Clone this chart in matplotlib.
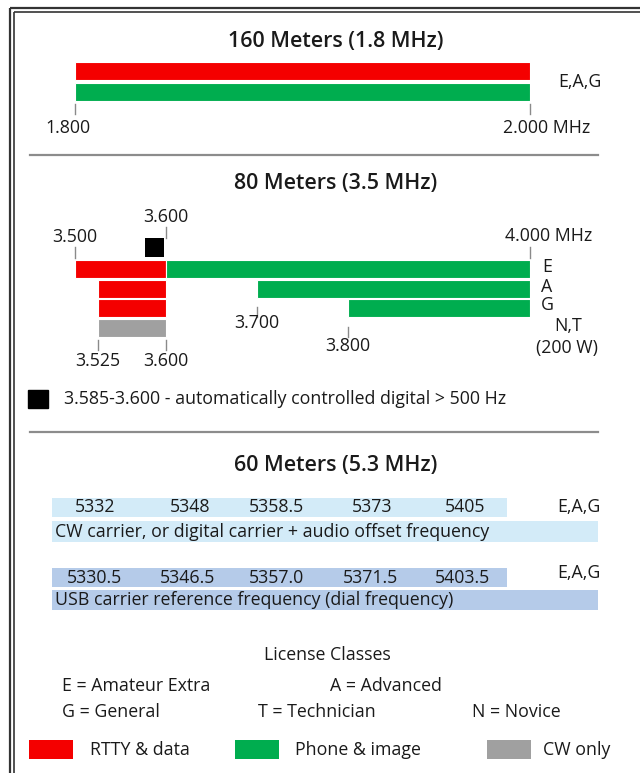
import matplotlib
matplotlib.use("Agg")
import matplotlib.pyplot as plt
from matplotlib.patches import Rectangle
from matplotlib import transforms

plt.rcParams['font.family'] = ['Open Sans', 'DejaVu Sans']

# ---------------- data ----------------
RED = '#f40000'
GREEN = '#00ad4f'
GRAY = '#a0a0a0'
LBLUE = '#d3ebf8'
DBLUE = '#b5cbe9'

# 160 m band (MHz)
b160_start, b160_end = 1.800, 2.000
b160_segments = [(1.800, 2.000, 'rtty'), (1.800, 2.000, 'phone')]
b160_classes = 'E,A,G'

# 80 m band (MHz): rows -> (start, end, mode)
b80_rows = {
    'E': [(3.500, 3.600, 'rtty'), (3.600, 4.000, 'phone')],
    'A': [(3.525, 3.600, 'rtty'), (3.700, 4.000, 'phone')],
    'G': [(3.525, 3.600, 'rtty'), (3.800, 4.000, 'phone')],
    'N,T': [(3.525, 3.600, 'cw')],
}
b80_auto = (3.577, 3.598)   # drawn square, 3.585-3.600 segment
b80_ticks = [3.500, 3.525, 3.600, 3.700, 3.800, 4.000]

# 60 m channels (kHz)
ch_cw = ['5332', '5348', '5358.5', '5373', '5405']
ch_usb = ['5330.5', '5346.5', '5357.0', '5371.5', '5403.5']

mode_color = {'rtty': RED, 'phone': GREEN, 'cw': GRAY}
mode_label = {'rtty': 'RTTY & data', 'phone': 'Phone & image', 'cw': 'CW only'}

license_classes = [('E = Amateur Extra', 0, 0), ('A = Advanced', 1, 0),
                   ('G = General', 0, 1), ('T = Technician', 1, 1), ('N = Novice', 2, 1)]

# ---------------- figure ----------------
W, H = 640, 773
fig = plt.figure(figsize=(W / 100, H / 100), dpi=100)
bg = fig.add_axes([0, 0, 1, 1])
bg.set_xlim(0, W)
bg.set_ylim(H, 0)
bg.axis('off')

TXT = '#1a1a1a'
TICK = '#8a8a8a'
FS = 12.8

# frame (double line)
for off, lw in ((0, 1.6), (3.5, 1.2)):
    bg.plot([10 + off, 10 + off], [H + 5, 8 + off], color='#333333', lw=lw, solid_capstyle='butt')
    bg.plot([10 + off, W + 5], [8 + off, 8 + off], color='#333333', lw=lw, solid_capstyle='butt')

# separators
for y in (155, 432):
    bg.plot([30, 598], [y, y], color='#8c8c8c', lw=1.6)

title_kw = dict(ha='center', va='center', fontsize=15.4, fontweight='semibold', color=TXT)
lab_kw = dict(va='center', fontsize=FS, color=TXT)

# ------------ 160 m -------------
ax1 = fig.add_axes([75 / W, 0, 455 / W, 1])
ax1.set_xlim(b160_start, b160_end)
ax1.set_ylim(H, 0)
ax1.axis('off')
bg.text(336, 42, '160 Meters (1.8 MHz)', **title_kw)
rows160 = [71, 92]
for (s, e, m), yc in zip(b160_segments, rows160):
    ax1.barh(yc, e - s, left=s, height=18, color=mode_color[m], edgecolor='white', linewidth=0.8)
for x in (b160_start, b160_end):
    ax1.plot([x, x], [104, 114], color=TICK, lw=1, clip_on=False)
ax1.text(b160_start, 128, '%.3f' % b160_start, ha='center', **lab_kw,
         transform=transforms.offset_copy(ax1.transData, fig=fig, x=-7, y=0, units='dots'))
ax1.text(b160_end, 128, '%.3f MHz' % b160_end, ha='left', **lab_kw,
         transform=transforms.offset_copy(ax1.transData, fig=fig, x=-27, y=0, units='dots'))
bg.text(558, 82, b160_classes, ha='left', **lab_kw)

# ------------ 80 m -------------
ax2 = fig.add_axes([75 / W, 0, 455 / W, 1])
ax2.set_xlim(3.5, 4.0)
ax2.set_ylim(H, 0)
ax2.axis('off')
bg.text(336, 184, '80 Meters (3.5 MHz)', **title_kw)
row_y = {'E': 268.5, 'A': 288.5, 'G': 307.5, 'N,T': 328}
for cls, segs in b80_rows.items():
    for s, e, m in segs:
        ax2.barh(row_y[cls], e - s, left=s, height=18, color=mode_color[m],
                 edgecolor='white', linewidth=0.8)
for cls in ('E', 'A', 'G'):
    bg.text(547, row_y[cls] - 2, cls, ha='center', **lab_kw)
bg.text(568, 326, 'N,T', ha='center', **lab_kw)
bg.text(567, 348, '(200 W)', ha='center', **lab_kw)
# automatically controlled digital square
ax2.barh(247.5, b80_auto[1] - b80_auto[0], left=b80_auto[0], height=19, color='black')

# ticks + labels  (value, tick y0, tick y1, label y)
tick_spec = [(3.500, 247, 258, 237), (3.600, 227, 238, 217), (4.000, 247, 258, 236),
             (3.700, 307, 317, 323), (3.800, 327, 337, 346),
             (3.525, 340, 350, 361), (3.600, 340, 350, 361)]
for v, y0, y1, ly in tick_spec:
    ax2.plot([v, v], [y0, y1], color=TICK, lw=1, clip_on=False)
    if v == 4.0:
        ax2.text(v, ly, '%.3f MHz' % v, ha='left', **lab_kw,
                 transform=transforms.offset_copy(ax2.transData, fig=fig, x=-25, y=0, units='dots'))
    else:
        ax2.text(v, ly, '%.3f' % v, ha='center', **lab_kw)
bg.add_patch(Rectangle((28, 390), 20, 18, color='black'))
bg.text(64, 399, '3.585-3.600 - automatically controlled digital > 500 Hz', ha='left', **lab_kw)

# ------------ 60 m -------------
bg.text(336, 466, '60 Meters (5.3 MHz)', **title_kw)
bg.add_patch(Rectangle((52, 498), 455, 19, color=LBLUE, lw=0))
bg.add_patch(Rectangle((52, 521), 546, 21, color=LBLUE, lw=0))
bg.add_patch(Rectangle((52, 568), 455, 19, color=DBLUE, lw=0))
bg.add_patch(Rectangle((52, 590), 546, 20, color=DBLUE, lw=0))
cw_x = [95, 190, 277, 372, 465]
usb_x = [95, 188, 277, 370, 462]
for t, x in zip(ch_cw, cw_x):
    bg.text(x, 507, t, ha='center', **lab_kw)
for t, x in zip(ch_usb, usb_x):
    bg.text(x, 578, t, ha='center', **lab_kw)
bg.text(557, 507, 'E,A,G', ha='left', **lab_kw)
bg.text(557, 573, 'E,A,G', ha='left', **lab_kw)
bg.text(55, 532, 'CW carrier, or digital carrier + audio offset frequency', ha='left', **lab_kw)
bg.text(55, 600, 'USB carrier reference frequency (dial frequency)', ha='left', **lab_kw)

# ------------ legend -------------
bg.text(327, 655, 'License Classes', ha='center', **lab_kw)
row_ly = {0: 686, 1: 712}
for txt, c, r in license_classes:
    if c == 0:
        x = 62
    elif c == 1:
        x = 330 if r == 0 else 258
    else:
        x = 472
    bg.text(x, row_ly[r], txt, ha='left', **lab_kw)

sw_x = {'rtty': 29, 'phone': 235, 'cw': 487}
tx_x = {'rtty': 90, 'phone': 295, 'cw': 543}
for m in ('rtty', 'phone', 'cw'):
    bg.add_patch(Rectangle((sw_x[m], 740), 44, 19, color=mode_color[m], lw=0))
    bg.text(tx_x[m], 750, mode_label[m], ha='left', **lab_kw)

fig.savefig('out.png', dpi=100)
